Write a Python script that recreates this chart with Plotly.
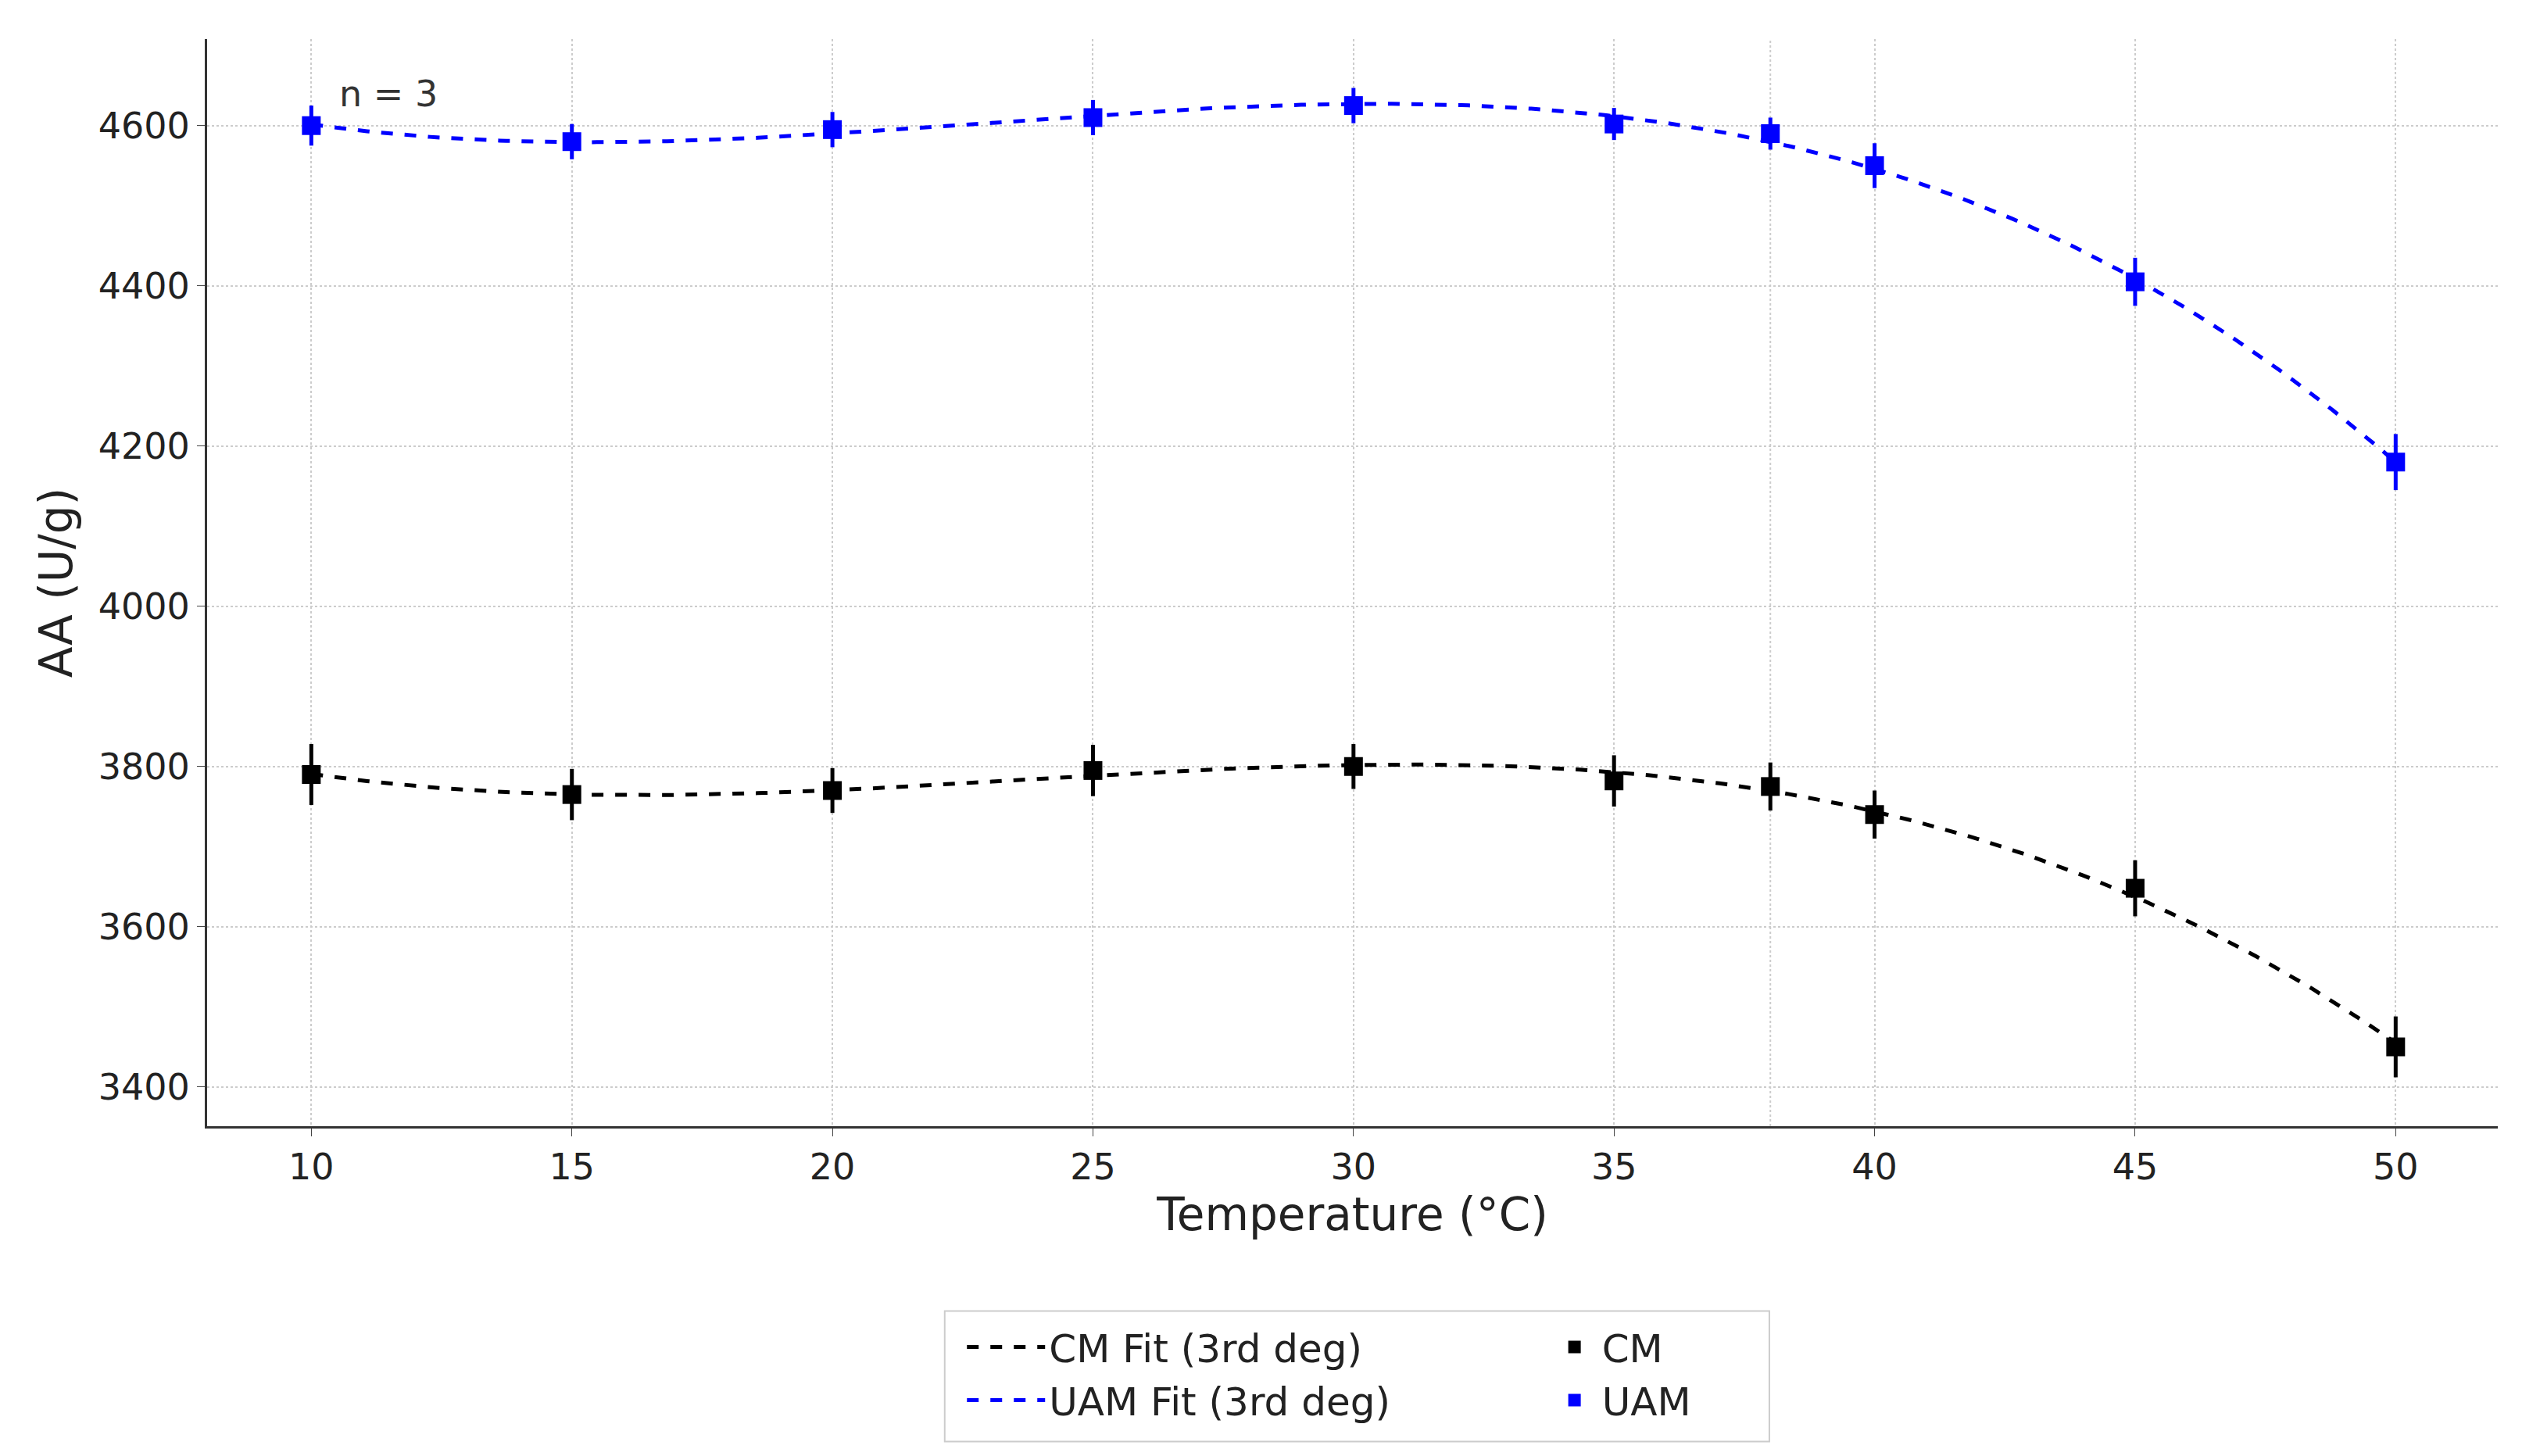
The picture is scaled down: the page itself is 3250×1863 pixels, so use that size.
import numpy as np
import plotly.graph_objects as go

temps = [10, 15, 20, 25, 30, 35, 38, 40, 45, 50]
cm_vals = [3790, 3765, 3770, 3795, 3800, 3782, 3775, 3740, 3648, 3450]
cm_err = [38, 32, 28, 32, 28, 32, 30, 30, 35, 38]
uam_vals = [4600, 4580, 4595, 4610, 4625, 4602, 4590, 4550, 4405, 4180]
uam_err = [25, 22, 22, 22, 22, 20, 20, 28, 30, 35]
xticks = [10, 15, 20, 25, 30, 35, 40, 45, 50]
extra_grid_x = [38]

xs = np.linspace(10, 50, 300)
cm_fit = np.polyval(np.polyfit(temps, cm_vals, 3), xs)
uam_fit = np.polyval(np.polyfit(temps, uam_vals, 3), xs)

F = "DejaVu Sans"
fig = go.Figure()
fig.add_trace(go.Scatter(x=xs, y=cm_fit, mode="lines", name="CM Fit (3rd deg)", legend="legend",
                         line=dict(color="black", dash="dash", width=5)))
fig.add_trace(go.Scatter(x=xs, y=uam_fit, mode="lines", name="UAM Fit (3rd deg)", legend="legend",
                         line=dict(color="blue", dash="dash", width=5)))
fig.add_trace(go.Scatter(x=temps, y=cm_vals, mode="markers", name="CM", legend="legend2",
                         marker=dict(color="black", symbol="square", size=24),
                         error_y=dict(array=cm_err, color="black", thickness=5, width=0)))
fig.add_trace(go.Scatter(x=temps, y=uam_vals, mode="markers", name="UAM", legend="legend2",
                         marker=dict(color="blue", symbol="square", size=24),
                         error_y=dict(array=uam_err, color="blue", thickness=5, width=0)))

for gx in extra_grid_x:
    fig.add_shape(type="line", xref="x", yref="paper", x0=gx, x1=gx, y0=0, y1=1,
                  line=dict(color="#ccc", width=2, dash="dot"), layer="below")

fig.add_shape(type="rect", xref="paper", yref="paper", x0=0.322, x1=0.682, y0=-0.29, y1=-0.17,
              line=dict(color="#ccc", width=2), fillcolor="rgba(0,0,0,0)")

fig.add_annotation(x=10.5, y=4640, text="n = 3", showarrow=False, xanchor="left",
                   font=dict(size=46, color="#333"))

fig.update_layout(
    width=3250, height=1863, paper_bgcolor="white", plot_bgcolor="white",
    margin=dict(l=257, r=62, t=42, b=430),
    font=dict(family=F, size=46, color="#222"),
    showlegend=True,
    legend=dict(orientation="v", x=0.33, xanchor="left", y=-0.175, yanchor="top",
                font=dict(size=50), itemwidth=100, bgcolor="rgba(0,0,0,0)", tracegroupgap=0),
    legend2=dict(orientation="v", x=0.585, xanchor="left", y=-0.175, yanchor="top",
                 font=dict(size=50), itemwidth=60, bgcolor="rgba(0,0,0,0)", tracegroupgap=0),
    xaxis=dict(range=[8.0, 51.96], tickvals=xticks, showline=True, linecolor="#333",
               linewidth=3, ticks="outside", ticklen=10, showgrid=True,
               gridcolor="#ccc", griddash="dot", gridwidth=2, zeroline=False,
               title=dict(text="Temperature (°C)", font=dict(size=58))),
    yaxis=dict(range=[3351, 4708], tickvals=[3400, 3600, 3800, 4000, 4200, 4400, 4600],
               showline=True, linecolor="#333", linewidth=3, ticks="outside", ticklen=10,
               showgrid=True, gridcolor="#ccc", griddash="dot", gridwidth=2, zeroline=False,
               title=dict(text="AA (U/g)", font=dict(size=58))),
)
fig.write_html("out.html")
